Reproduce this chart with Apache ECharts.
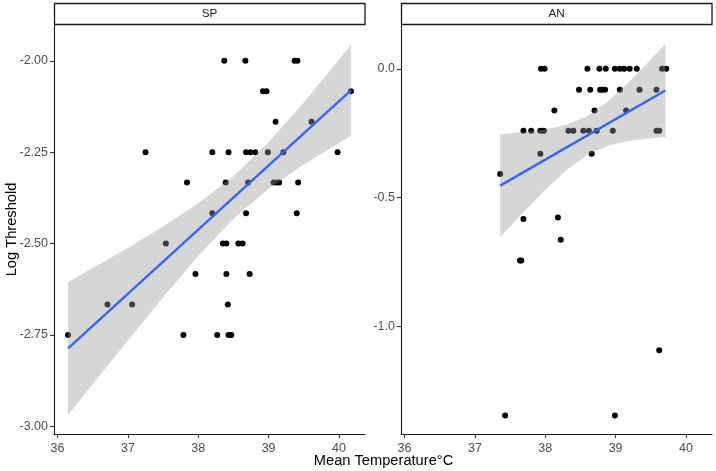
<!DOCTYPE html>
<html>
<head>
<meta charset="utf-8">
<script src="https://cdn.jsdelivr.net/npm/echarts@6/dist/echarts.min.js"></script>
<style>
html,body{margin:0;padding:0;background:#fff;}
#chart{width:716px;height:471px;}
</style>
</head>
<body>
<div id="chart"></div>
<script>
// ---------- DATA ----------
const panelNames = ['SP', 'AN'];
const xTicks = [36, 37, 38, 39, 40];
const spYTicks = [-3.0, -2.75, -2.5, -2.25, -2.0];
const anYTicks = [-1.0, -0.5, 0.0];

// SP panel points
const spTemp = [38.37, 38.67, 39.37, 39.41,
  38.92, 38.97, 40.17,
  39.10, 39.61,
  37.25, 38.20, 38.43, 38.68, 38.74, 38.81, 38.99, 39.21, 39.98,
  37.84, 38.39, 38.71, 39.07, 39.11, 39.15, 39.42,
  38.20, 38.68, 39.40,
  37.54, 38.35, 38.40, 38.57, 38.63,
  37.96, 38.40, 38.73,
  36.71, 37.06, 38.42,
  36.15, 37.79, 38.27, 38.43, 38.47];
const spLog = [-2.0, -2.0, -2.0, -2.0,
  -2.083, -2.083, -2.083,
  -2.167, -2.167,
  -2.25, -2.25, -2.25, -2.25, -2.25, -2.25, -2.25, -2.25, -2.25,
  -2.333, -2.333, -2.333, -2.333, -2.333, -2.333, -2.333,
  -2.417, -2.417, -2.417,
  -2.5, -2.5, -2.5, -2.5, -2.5,
  -2.583, -2.583, -2.583,
  -2.667, -2.667, -2.667,
  -2.75, -2.75, -2.75, -2.75, -2.75];

// AN panel points
const anTemp = [37.94, 37.99, 38.60, 38.77, 38.86, 38.99, 39.06, 39.12, 39.20, 39.30, 39.66, 39.72,
  38.48, 38.64, 38.78, 38.81, 38.85, 39.06, 39.34, 39.58,
  38.13, 38.70, 39.15,
  37.69, 37.80, 37.93, 37.98, 38.33, 38.40, 38.54, 38.62, 38.73, 38.96, 39.58, 39.62,
  37.93, 38.66,
  37.36,
  38.18, 37.69,
  38.22,
  37.64, 37.66,
  39.62,
  37.43, 38.99];
const anLog = [0, 0, 0, 0, 0, 0, 0, 0, 0, 0, 0, 0,
  -0.082, -0.082, -0.082, -0.082, -0.082, -0.082, -0.082, -0.082,
  -0.162, -0.162, -0.162,
  -0.241, -0.241, -0.241, -0.241, -0.241, -0.241, -0.241, -0.241, -0.241, -0.241, -0.241, -0.241,
  -0.33, -0.33,
  -0.409,
  -0.578, -0.584,
  -0.664,
  -0.745, -0.745,
  -1.094,
  -1.347, -1.347];

// fitted lines (endpoints)
const spFitX = [36.15, 40.17];
const spFitY = [-2.787, -2.081];
const anFitX = [37.36, 39.707];
const anFitY = [-0.454, -0.0845];

// confidence bands
const spBandX = [36.15, 36.6, 37.0, 37.5, 38.0, 38.5, 39.0, 39.5, 40.17];
const spBandUpper = [-2.605, -2.556, -2.512, -2.453, -2.390, -2.316, -2.223, -2.114, -1.957];
const spBandLower = [-2.969, -2.860, -2.765, -2.647, -2.534, -2.432, -2.350, -2.284, -2.205];
const anBandX = [37.36, 37.7, 38.0, 38.3, 38.6, 38.9, 39.2, 39.5, 39.707];
const anBandUpper = [-0.254, -0.246, -0.236, -0.218, -0.184, -0.125, -0.049, 0.036, 0.096];
const anBandLower = [-0.654, -0.555, -0.470, -0.394, -0.334, -0.298, -0.280, -0.270, -0.265];

// ---------- CHART ----------
const FONT = '"Liberation Sans", Arial, Helvetica, sans-serif';
const chart = echarts.init(document.getElementById('chart'), null, {renderer: 'canvas'});

function zip(a, b) { return a.map((v, i) => [v, b[i]]); }

function bandSeries(idx, xs, up, lo) {
  return {
    type: 'custom',
    xAxisIndex: idx, yAxisIndex: idx,
    z: 3,
    silent: true,
    data: xs.map((x, i) => [x, up[i], lo[i]]),
    encode: {x: 0, y: [1, 2]},
    renderItem: function (params, api) {
      if (params.dataIndex !== 0) return null;
      const pts = [];
      for (let i = 0; i < xs.length; i++) pts.push(api.coord([xs[i], up[i]]));
      for (let i = xs.length - 1; i >= 0; i--) pts.push(api.coord([xs[i], lo[i]]));
      return {
        type: 'polygon',
        shape: {points: pts},
        style: {fill: 'rgba(153,153,153,0.4)', stroke: null}
      };
    }
  };
}

function xAxisCfg(idx) {
  return {
    type: 'value', gridIndex: idx, min: 35.95, max: 40.37,
    axisLine: {show: true, onZero: false, lineStyle: {color: '#1a1a1a', width: 1.1}},
    axisTick: {show: true, length: 4, customValues: xTicks, lineStyle: {color: '#333', width: 1.1}},
    axisLabel: {customValues: xTicks, color: '#4d4d4d', fontSize: 12.5, fontFamily: FONT, margin: 8,
      formatter: v => String(Math.round(v))},
    splitLine: {show: false}
  };
}

function yAxisCfg(idx, min, max, ticks, dec) {
  return {
    type: 'value', gridIndex: idx, min: min, max: max,
    axisLine: {show: true, onZero: false, lineStyle: {color: '#1a1a1a', width: 1.1}},
    axisTick: {show: true, length: 4, customValues: ticks, lineStyle: {color: '#333', width: 1.1}},
    axisLabel: {customValues: ticks, color: '#4d4d4d', fontSize: 12.5, fontFamily: FONT, margin: 6,
      formatter: v => Number(v).toFixed(dec)},
    splitLine: {show: false}
  };
}

const grids = [
  {left: 54, top: 25, width: 311, height: 409},
  {left: 401, top: 25, width: 311, height: 409}
];

const option = {
  backgroundColor: '#fff',
  animation: false,
  grid: grids,
  xAxis: [xAxisCfg(0), xAxisCfg(1)],
  yAxis: [
    yAxisCfg(0, -3.021, -1.902, spYTicks, 2),
    yAxisCfg(1, -1.419, 0.170, anYTicks, 1)
  ],
  series: [
    {type: 'scatter', xAxisIndex: 0, yAxisIndex: 0, z: 2, symbolSize: 6,
      itemStyle: {color: '#000', opacity: 1}, data: zip(spTemp, spLog)},
    {type: 'scatter', xAxisIndex: 1, yAxisIndex: 1, z: 2, symbolSize: 6,
      itemStyle: {color: '#000', opacity: 1}, data: zip(anTemp, anLog)},
    bandSeries(0, spBandX, spBandUpper, spBandLower),
    bandSeries(1, anBandX, anBandUpper, anBandLower),
    {type: 'line', xAxisIndex: 0, yAxisIndex: 0, z: 4, showSymbol: false, silent: true,
      lineStyle: {color: '#3366FF', width: 2.4}, data: zip(spFitX, spFitY)},
    {type: 'line', xAxisIndex: 1, yAxisIndex: 1, z: 4, showSymbol: false, silent: true,
      lineStyle: {color: '#3366FF', width: 2.4}, data: zip(anFitX, anFitY)}
  ],
  graphic: [
    {type: 'rect', shape: {x: 54.5, y: 3.5, width: 310.5, height: 21},
      style: {fill: '#fff', stroke: '#1a1a1a', lineWidth: 1.3}},
    {type: 'text', x: 54 + 311 / 2, y: 14,
      style: {text: panelNames[0], fill: '#1a1a1a', font: '11.7px ' + FONT, align: 'center', verticalAlign: 'middle'}},
    {type: 'rect', shape: {x: 401.5, y: 3.5, width: 310.5, height: 21},
      style: {fill: '#fff', stroke: '#1a1a1a', lineWidth: 1.3}},
    {type: 'text', x: 401 + 311 / 2, y: 14,
      style: {text: panelNames[1], fill: '#1a1a1a', font: '11.7px ' + FONT, align: 'center', verticalAlign: 'middle'}},
    {type: 'text', x: 383.5, y: 461,
      style: {text: 'Mean Temperature°C', fill: '#000', font: '14.67px ' + FONT, align: 'center', verticalAlign: 'middle'}},
    {type: 'text', x: 12, y: 229.5, rotation: Math.PI / 2,
      style: {text: 'Log Threshold', fill: '#000', font: '14.67px ' + FONT, align: 'center', verticalAlign: 'middle'}}
  ]
};
chart.setOption(option);
</script>
</body>
</html>
